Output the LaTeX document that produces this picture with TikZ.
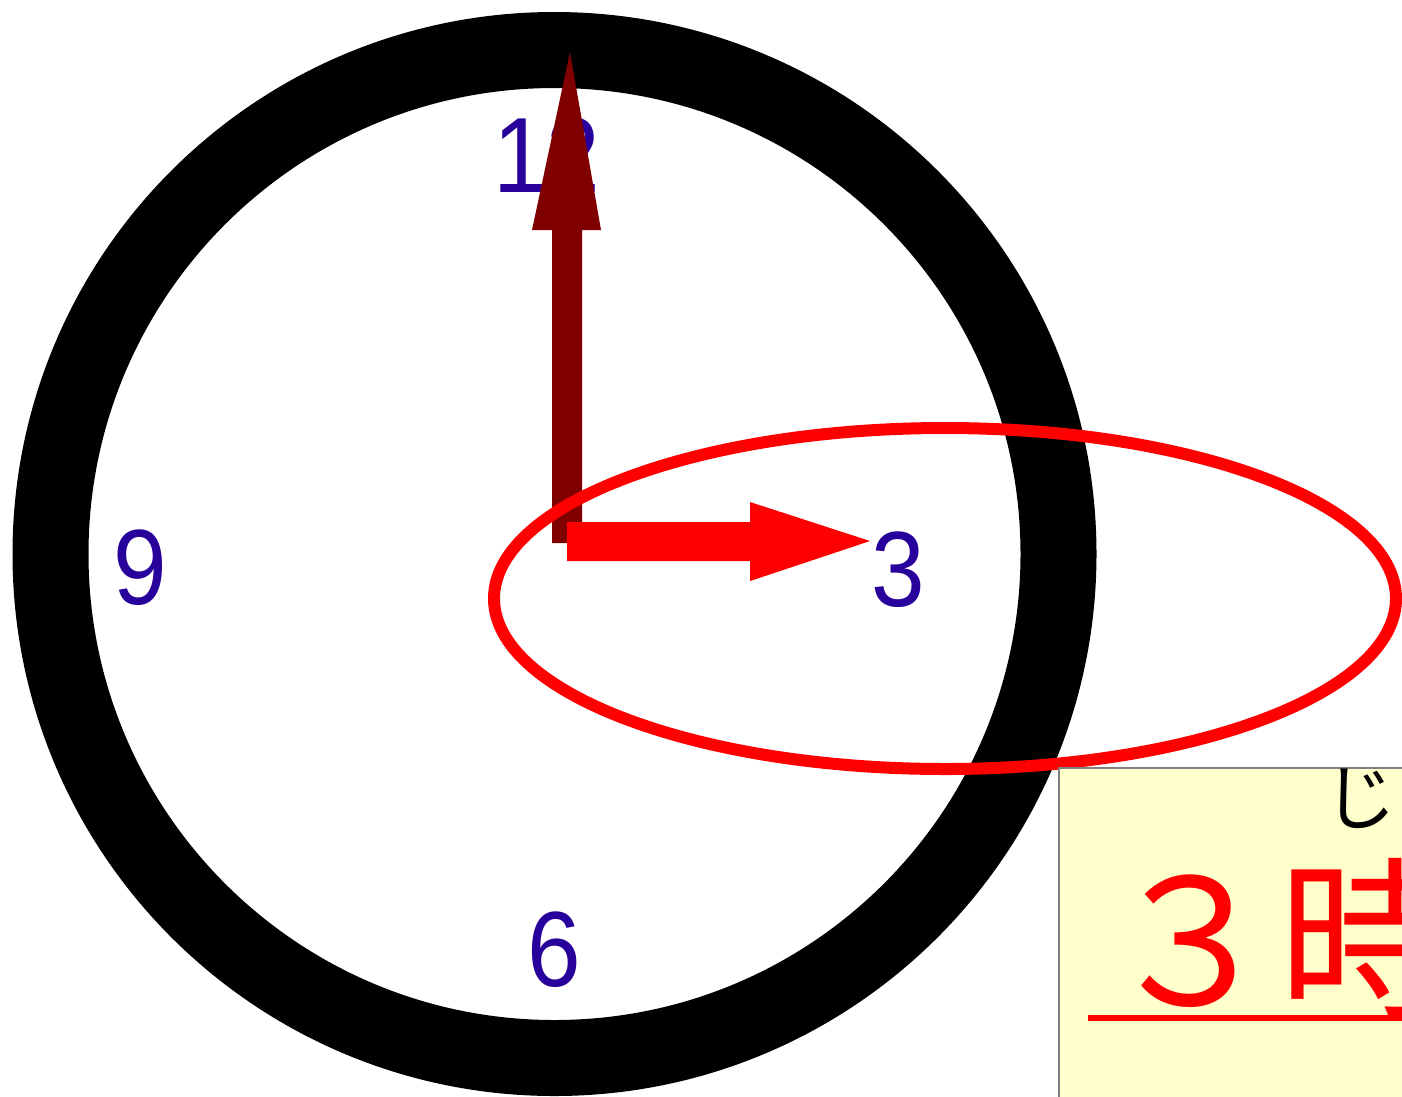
\documentclass[tikz,border=0pt]{standalone}
\usepackage{fontspec}
\setmainfont{Liberation Sans}
\newfontfamily\numfont[FakeStretch=0.9]{Liberation Sans}
\newfontfamily\jpfont{Noto Sans CJK JP}
\definecolor{numcol}{RGB}{40,0,155}
\definecolor{minhand}{RGB}{128,0,0}
\definecolor{hourhand}{RGB}{255,0,0}
\definecolor{notebg}{RGB}{255,255,204}
\tikzset{
  numlabel/.style={text=numcol,inner sep=0pt,font=\numfont\fontsize{107}{107}\selectfont},
  ring/.style={line width=76pt,draw=black},
  notebox/.style={fill=notebg,draw=gray,line width=1.2pt},
}
\begin{document}
\begin{tikzpicture}[x=1pt,y=-1pt]
\clip (0,0) rectangle (1402,1096);
\fill[white] (0,0) rectangle (1402,1096);
% clock ring
\draw[ring] (554.5,554) circle[radius=504pt];
% numbers
\node[numlabel] (n12) at (547,155) {12};
\node[numlabel] (n9) at (140,568) {9};
\node[numlabel] (n3) at (898,570) {3};
\node[numlabel] (n6) at (554,950) {6};
% minute hand
\fill[minhand] (552,543) -- (552,230) -- (532,230) -- (570,52) -- (601,230) -- (582,230) -- (582,543) -- cycle;
% hour hand
\fill[hourhand] (567,522) -- (750,522) -- (750,502) -- (870,541) -- (750,581) -- (750,561) -- (567,561) -- cycle;
% ellipse
\draw[hourhand,line width=12pt] (945,598.5) ellipse[x radius=451pt,y radius=170.5pt];
% note box
\draw[notebox] (1059,768) rectangle (1420,1110);
\node[inner sep=0pt,text=hourhand,font=\jpfont\fontsize{175}{175}\selectfont] (jp) at (1278,939) {３時};
\node[inner sep=0pt,text=black,font=\jpfont\fontsize{72}{72}\selectfont] (ruby) at (1360,799) {じ};
\coordinate (ulA) at (1088,1018);
\coordinate (ulB) at (1410,1018);
\draw[hourhand,line width=6pt] (ulA) -- (ulB);
\end{tikzpicture}
\end{document}
